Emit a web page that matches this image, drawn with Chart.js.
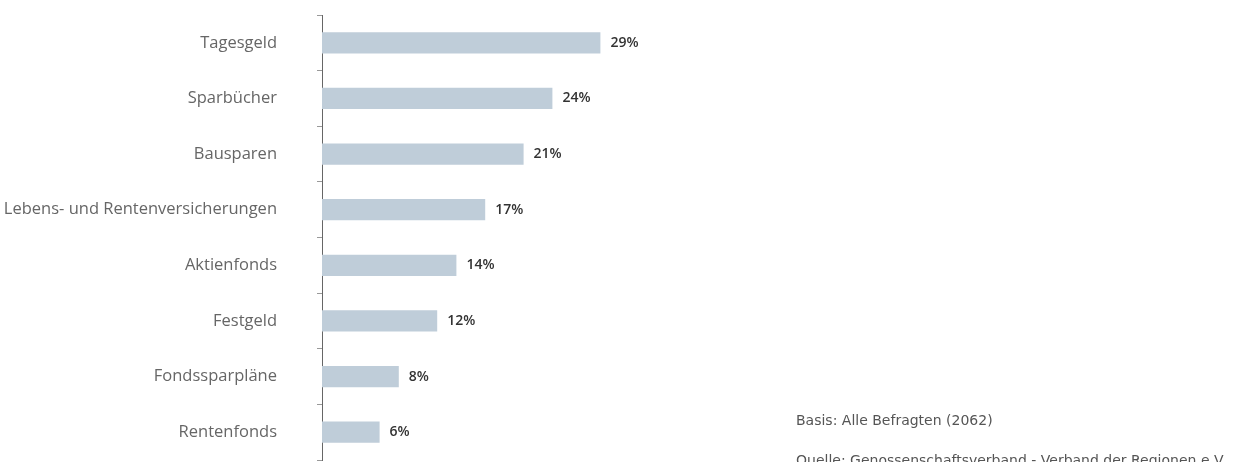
<!DOCTYPE html>
<html>
<head>
<meta charset="utf-8">
<script src="https://cdn.jsdelivr.net/npm/chart.js@4"></script>
<style>
   html, body { margin: 0; padding: 0; background: #fff; overflow: hidden; }
   #wrap { position: relative; width: 1256px; height: 462px; overflow: hidden; }
   #box { position: absolute; left: 0; top: 0; width: 1256px; height: 462px; }
   .note { position: absolute; left: 796px; font-family: "DejaVu Sans", sans-serif; font-size: 14px; line-height: 16px; color: #555; white-space: nowrap; }
</style>
</head>
<body>
<div id="wrap">
   <div id="box"><canvas id="chartResult"></canvas></div>
   <div class="note" style="top: 412px;">Basis: Alle Befragten (2062)</div>
   <div class="note" style="top: 452px;">Quelle: Genossenschaftsverband - Verband der Regionen e.V.</div>
</div>
<script>
const categories = ['Tagesgeld', 'Sparbücher', 'Bausparen', 'Lebens- und Rentenversicherungen', 'Aktienfonds', 'Festgeld', 'Fondssparpläne', 'Rentenfonds']
const shares = [29, 24, 21, 17, 14, 12, 8, 6]
const valueLabels = ['29%', '24%', '21%', '17%', '14%', '12%', '8%', '6%']

// value text right of each bar
const barLabels = {
   id: 'barLabels',
   afterDatasetsDraw(chart) {
      const ctx = chart.ctx
      const meta = chart.getDatasetMeta(0)
      ctx.save()
      ctx.font = '600 14px "Open Sans", sans-serif'
      ctx.fillStyle = '#333'
      ctx.textBaseline = 'middle'
      meta.data.forEach((bar, i) => {
         ctx.fillText(valueLabels[i], bar.x + 10, bar.y)
      })
      ctx.restore()
   }
}

const ctx = document.getElementById('chartResult')
const myBarChart = new Chart(ctx, {
   type: 'bar',
   data: {
      labels: categories,
      datasets: [{
         data: shares,
         backgroundColor: '#bfcdd9',
         barPercentage: 0.76,
         categoryPercentage: 0.5
      }]
   },
   options: {
      indexAxis: 'y',
      responsive: true,
      maintainAspectRatio: false,
      animation: false,
      layout: { padding: { top: 15, bottom: 2, right: 70, left: 0 } },
      plugins: {
         legend: { display: false },
         tooltip: { enabled: false }
      },
      scales: {
         x: { display: false, min: 0, max: 90 },
         y: {
            // fixed axis position, and no extra top/bottom padding from the label gap
            afterFit: (scale) => {
               scale.width = 322
               scale.paddingTop = 0
               scale.paddingBottom = 0
            },
            border: { display: true, color: '#666', width: 1 },
            grid: { drawOnChartArea: false, tickLength: 5, color: '#999', offset: true },
            ticks: {
               padding: 40,
               color: '#666',
               font: { family: '"Open Sans", sans-serif', size: 16.5 }
            }
         }
      }
   },
   plugins: [barLabels]
})
</script>
</body>
</html>
